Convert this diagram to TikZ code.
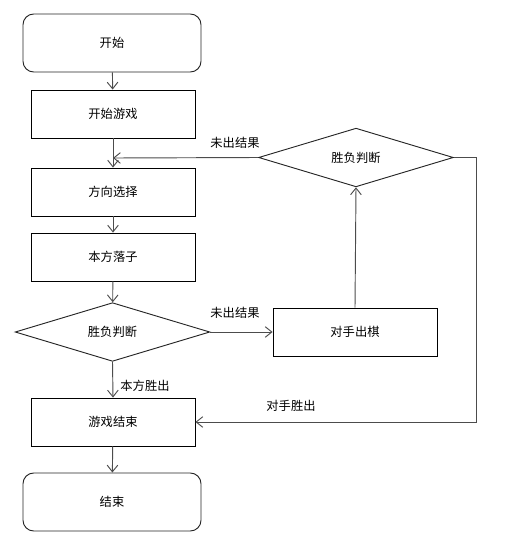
\documentclass[tikz,border=0pt]{standalone}
\usepackage{fontspec}
\setmainfont{Noto Sans CJK SC}
\usetikzlibrary{arrows.meta,shapes.geometric}
\begin{document}
\begin{tikzpicture}[x=0.75pt,y=-0.75pt,
  font=\fontsize{9.2pt}{11pt}\selectfont,
  box/.style={draw=black,line width=0.65pt,minimum width=123pt,minimum height=36pt,inner sep=0pt},
  term/.style={draw=black!85,line width=0.7pt,rounded corners=8pt,minimum width=133.5pt,minimum height=43.5pt,inner sep=0pt},
  dec/.style={draw=black!85,line width=0.7pt,diamond,aspect=3.35,inner sep=0pt,minimum width=146pt,minimum height=44pt},
  arr/.style={draw=black!70,line width=0.7pt,-{Straight Barb[length=5pt,width=8pt]}},
  lbl/.style={inner sep=1pt}]
\useasboundingbox (0,0) rectangle (508,550);
\node[term] (start) at (112,43) {开始};
\node[box] (play) at (113,114) {开始游戏};
\node[box] (dir) at (113,192) {方向选择};
\node[box] (move) at (113,257) {本方落子};
\node[dec] (judge1) at (112.5,332) {胜负判断};
\node[box] (opp) at (355,332) {对手出棋};
\node[dec] (judge2) at (356,157.5) {胜负判断};
\node[box] (over) at (113,422) {游戏结束};
\node[term] (end) at (112,502) {结束};
\coordinate (merge) at (113,158);
\coordinate (rightc) at (476,157.5);
\coordinate (rightd) at (476,422);
\draw[arr] (start) -- (play);
\draw[arr] (play) -- (dir);
\draw[arr] (judge2.west) -- (merge);
\draw[arr] (dir) -- (move);
\draw[arr] (move) -- (judge1);
\draw[arr] (judge1.east) -- (opp.west);
\draw[arr] (opp.north) -- (judge2.south);
\draw[arr] (judge1.south) -- (over.north);
\draw[arr] (judge2.east) -- (rightc) -- (rightd) -- (over.east);
\draw[arr] (over) -- (end);
\node[lbl] (l1) at (235,143) {未出结果};
\node[lbl] (l2) at (235,313) {未出结果};
\node[lbl] (l3) at (145,386) {本方胜出};
\node[lbl] (l4) at (291,406) {对手胜出};
\end{tikzpicture}
\end{document}
